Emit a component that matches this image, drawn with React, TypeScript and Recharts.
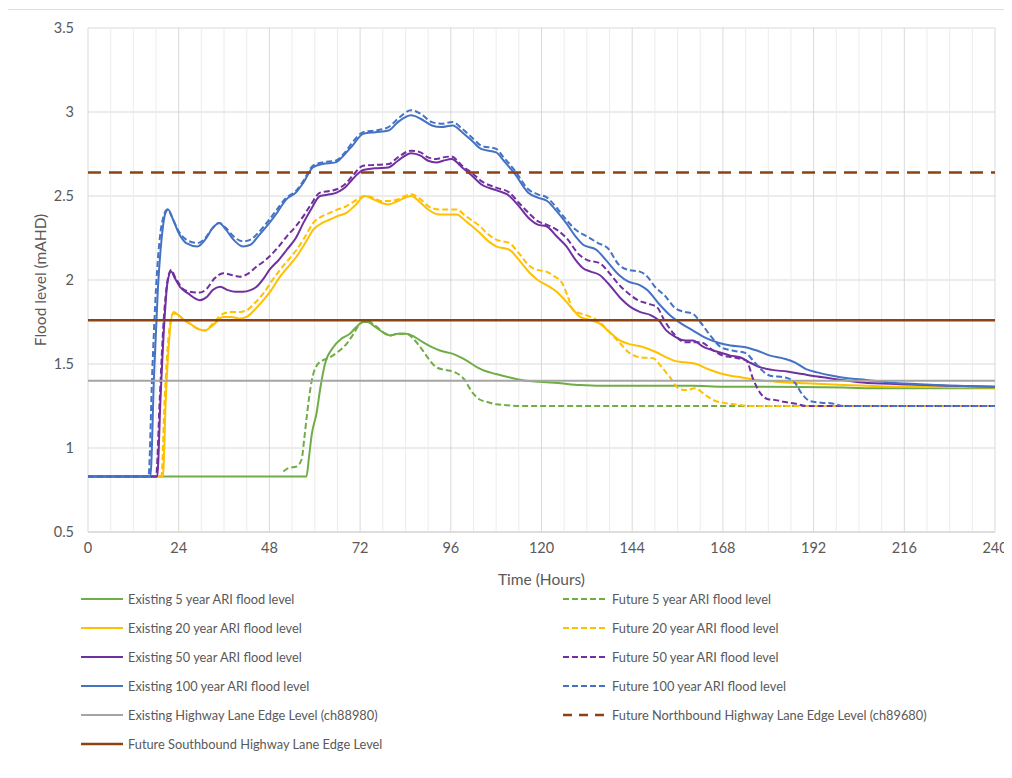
import React from 'react';
import { LineChart, Line, XAxis, YAxis, CartesianGrid, ReferenceLine } from 'recharts';

// time (hours) / flood level (mAHD) pairs
const existing5: [number, number][] = [
  [0, 0.83], [57.8, 0.83], [58.5, 0.95], [59.2, 1.08], [60.5, 1.21], [61.5, 1.36], [62.7, 1.5], [64.9, 1.6],
  [67, 1.65], [69.3, 1.68], [71, 1.72], [72.8, 1.75], [74, 1.75], [76, 1.72], [78, 1.69], [79.9, 1.67],
  [82, 1.68], [84.3, 1.68], [86.5, 1.66], [88.6, 1.63], [91, 1.6], [93.1, 1.58], [96.6, 1.56], [100.2, 1.52],
  [103, 1.48], [105.5, 1.455], [108, 1.44], [112.5, 1.415], [116, 1.4], [119.6, 1.395], [125, 1.385],
  [130.2, 1.375], [139, 1.37], [150, 1.37], [160, 1.37], [168, 1.365], [180, 1.365], [200, 1.36], [210, 1.355], [240, 1.355],
];
const future5: [number, number][] = [
  [51.7, 0.86], [53, 0.88], [55.2, 0.89], [56.5, 0.93], [57.2, 1.05], [57.8, 1.17], [58.5, 1.3], [59.2, 1.4],
  [60.5, 1.49], [62, 1.52], [64, 1.54], [66, 1.57], [68.4, 1.62], [70, 1.67], [72, 1.74], [73.5, 1.76],
  [74.6, 1.75], [76.5, 1.72], [78, 1.69], [79.9, 1.67], [82, 1.68], [84.3, 1.68], [86.5, 1.64], [88.6, 1.58],
  [90.5, 1.52], [92.2, 1.48], [94.5, 1.465], [96.6, 1.455], [99.3, 1.415], [101.9, 1.325], [103.5, 1.29],
  [105.5, 1.275], [108, 1.26], [110.8, 1.255], [114, 1.25], [240, 1.25],
];
const existing20: [number, number][] = [
  [0, 0.83], [19.8, 0.83], [20.6, 1.3], [21.5, 1.65], [22.6, 1.81], [24, 1.79], [25.5, 1.76], [27, 1.74],
  [29, 1.71], [31, 1.7], [33, 1.73], [35.8, 1.78], [38, 1.78], [40, 1.77], [42, 1.78], [44, 1.82], [46.4, 1.88],
  [48.5, 1.94], [50.8, 2.02], [53, 2.08], [55.2, 2.14], [57.5, 2.22], [59.6, 2.3], [62, 2.34], [64, 2.36],
  [66, 2.38], [68.4, 2.4], [70.5, 2.44], [73.3, 2.5], [75.5, 2.48], [77.5, 2.46], [79.5, 2.45], [82, 2.47],
  [85.5, 2.5], [88, 2.46], [90, 2.42], [93, 2.39], [95.5, 2.39], [97.5, 2.39], [100, 2.35], [103.7, 2.28],
  [106, 2.23], [108, 2.2], [111.5, 2.18], [114, 2.12], [117, 2.04], [119, 2.0], [121.3, 1.97], [124, 1.93],
  [126.6, 1.87], [128.5, 1.82], [130.2, 1.78], [133, 1.76], [135.4, 1.74], [138, 1.69], [140.7, 1.64],
  [143, 1.62], [147, 1.6], [150.4, 1.57], [153, 1.54], [155, 1.52], [158, 1.51], [161, 1.5], [164, 1.47],
  [167.2, 1.445], [170, 1.43], [173, 1.42], [177, 1.405], [182, 1.395], [190, 1.385], [200, 1.375], [215, 1.365], [240, 1.36],
];
const future20: [number, number][] = [
  [0, 0.83], [19.4, 0.83], [20.3, 1.3], [21.3, 1.66], [22.5, 1.8], [24, 1.79], [25.5, 1.76], [27, 1.74],
  [29, 1.71], [31, 1.7], [33, 1.74], [35.8, 1.8], [38, 1.81], [40, 1.81], [42, 1.82], [44, 1.86], [46.4, 1.92],
  [48.5, 1.99], [50.8, 2.06], [53, 2.12], [55.2, 2.18], [57.5, 2.26], [59.6, 2.34], [62, 2.38], [64, 2.4],
  [66, 2.42], [68.4, 2.44], [70.5, 2.47], [73.3, 2.5], [75.5, 2.49], [77.5, 2.47], [79.5, 2.47], [82, 2.48],
  [85.5, 2.51], [88, 2.48], [90, 2.44], [93, 2.42], [95.5, 2.42], [97.5, 2.42], [100, 2.38], [103.7, 2.32],
  [106, 2.27], [108, 2.24], [111.5, 2.22], [114, 2.16], [117, 2.08], [119, 2.06], [121.3, 2.05], [123.5, 2.02],
  [125.5, 1.98], [127, 1.9], [128.4, 1.82], [131.9, 1.79], [135.4, 1.75], [138, 1.69], [140.7, 1.625],
  [143, 1.57], [146, 1.54], [149.5, 1.535], [151.5, 1.49], [154, 1.42], [156.6, 1.35], [158.5, 1.345],
  [160.5, 1.355], [163.7, 1.31], [166, 1.28], [168, 1.27], [171, 1.26], [175, 1.25], [240, 1.25],
];
const existing50: [number, number][] = [
  [0, 0.83], [18.3, 0.83], [19.2, 1.3], [20.2, 1.75], [21, 1.98], [22, 2.05], [23, 2.01], [24.3, 1.96],
  [26.5, 1.92], [29.6, 1.88], [31.5, 1.9], [33, 1.94], [35, 1.96], [37, 1.94], [39, 1.93], [41, 1.93],
  [43, 1.94], [44.6, 1.96], [46.5, 2.01], [48, 2.06], [50.5, 2.12], [52.6, 2.18], [55, 2.25], [57, 2.34],
  [59, 2.42], [61.4, 2.5], [64, 2.51], [65.8, 2.52], [68, 2.55], [70, 2.6], [72.8, 2.655], [76, 2.665],
  [79.5, 2.67], [82, 2.71], [85.5, 2.755], [88, 2.74], [90, 2.71], [92.2, 2.7], [94, 2.71], [96.2, 2.72],
  [99, 2.67], [101.9, 2.615], [104, 2.57], [108, 2.535], [111.5, 2.5], [114, 2.44], [117, 2.36], [119, 2.33],
  [121.3, 2.32], [124, 2.26], [126.6, 2.2], [129, 2.12], [131, 2.07], [133, 2.05], [135.4, 2.03], [138, 1.97],
  [141, 1.89], [143.5, 1.84], [146, 1.81], [149, 1.79], [151, 1.76], [153, 1.7], [155.5, 1.66], [158, 1.64],
  [160, 1.64], [163, 1.6], [167, 1.57], [170, 1.55], [172.5, 1.54], [175, 1.51], [178, 1.48], [181, 1.465],
  [185, 1.455], [189, 1.44], [193, 1.425], [198, 1.41], [205, 1.39], [215, 1.38], [228, 1.37], [240, 1.365],
];
const future50: [number, number][] = [
  [0, 0.83], [18, 0.83], [19, 1.3], [20, 1.75], [21, 1.99], [22, 2.06], [23, 2.02], [25, 1.95], [27, 1.93],
  [29.6, 1.925], [31.5, 1.95], [33.5, 2.01], [35.8, 2.04], [38, 2.03], [40.2, 2.02], [42.5, 2.04], [44.6, 2.08],
  [46.5, 2.11], [48, 2.14], [50.5, 2.2], [52.6, 2.26], [55, 2.32], [57, 2.38], [59, 2.45], [61.4, 2.52],
  [64, 2.53], [65.8, 2.54], [68, 2.57], [70, 2.62], [72.8, 2.68], [76, 2.685], [79.5, 2.69], [82, 2.73],
  [85.5, 2.77], [88, 2.76], [90, 2.73], [92.2, 2.72], [94, 2.73], [96.2, 2.735], [99, 2.68], [102, 2.63],
  [104, 2.59], [108, 2.55], [111.5, 2.52], [114, 2.46], [117, 2.39], [119, 2.35], [121.3, 2.33], [124, 2.3],
  [126.6, 2.25], [130, 2.15], [132, 2.12], [135.4, 2.1], [138, 2.04], [141, 1.96], [143, 1.92], [145.5, 1.88],
  [148, 1.86], [150.5, 1.84], [152.5, 1.76], [155, 1.68], [158, 1.63], [162, 1.63], [165.5, 1.58], [168, 1.55],
  [170.6, 1.54], [174.2, 1.52], [176, 1.41], [177.8, 1.33], [180, 1.29], [182, 1.285], [184, 1.275],
  [187, 1.265], [190, 1.25], [240, 1.25],
];
const existing100: [number, number][] = [
  [0, 0.83], [16.5, 0.83], [17.5, 1.45], [18.5, 1.95], [19.5, 2.25], [20.5, 2.4], [21.2, 2.42], [22.5, 2.36],
  [24, 2.28], [26, 2.22], [29, 2.2], [31, 2.24], [33, 2.31], [34.7, 2.34], [36.5, 2.3], [38.5, 2.24], [41, 2.2],
  [43, 2.21], [45, 2.26], [48, 2.34], [50, 2.4], [52.5, 2.48], [55, 2.52], [57, 2.58], [59.5, 2.67], [62, 2.69],
  [65.5, 2.7], [68, 2.75], [70, 2.8], [72.8, 2.87], [76, 2.88], [79.5, 2.89], [82, 2.94], [85.5, 2.98],
  [88, 2.96], [91, 2.92], [93.5, 2.91], [96.5, 2.92], [99, 2.88], [102, 2.82], [104, 2.78], [108, 2.76],
  [110, 2.71], [113, 2.63], [116.5, 2.52], [119, 2.49], [121.5, 2.47], [124, 2.41], [126.5, 2.34], [129, 2.26],
  [131, 2.21], [134.5, 2.18], [137, 2.12], [140.5, 2.03], [143, 1.99], [146, 1.97], [148, 1.94], [151, 1.86],
  [154, 1.79], [157, 1.74], [160, 1.7], [163, 1.66], [167, 1.625], [170, 1.61], [174, 1.6], [177, 1.58],
  [180.5, 1.55], [184.5, 1.53], [187, 1.51], [190, 1.47], [193, 1.45], [197, 1.43], [201, 1.415], [206, 1.405],
  [212, 1.39], [220, 1.38], [230, 1.37], [240, 1.365],
];
const future100: [number, number][] = [
  [0, 0.83], [16, 0.83], [17, 1.45], [18, 1.95], [19, 2.25], [20, 2.38], [21, 2.42], [22.5, 2.36], [24, 2.29],
  [26, 2.24], [29, 2.22], [31, 2.25], [33, 2.31], [34.7, 2.34], [36.5, 2.31], [38.5, 2.26], [41, 2.23],
  [43, 2.24], [45, 2.28], [48, 2.36], [50, 2.42], [52.5, 2.49], [55, 2.53], [57, 2.59], [59.5, 2.68], [62, 2.7],
  [65.5, 2.71], [68, 2.76], [70, 2.82], [72.8, 2.88], [76, 2.89], [79.5, 2.91], [82, 2.96], [85.5, 3.01],
  [88, 2.99], [91, 2.94], [93.5, 2.93], [96.5, 2.94], [99, 2.9], [102, 2.84], [104, 2.8], [108, 2.78],
  [110, 2.73], [113, 2.65], [116.5, 2.54], [119, 2.51], [121.5, 2.49], [124, 2.43], [126.5, 2.36], [129, 2.3],
  [132, 2.26], [135, 2.22], [137.5, 2.19], [140.5, 2.09], [143, 2.06], [146, 2.05], [148, 2.02], [150, 1.96],
  [152.5, 1.91], [155.5, 1.83], [158, 1.81], [160, 1.8], [162, 1.75], [165, 1.66], [167.5, 1.6], [170.5, 1.58],
  [174, 1.565], [176, 1.52], [178, 1.47], [180.5, 1.43], [184.5, 1.42], [187, 1.39], [189, 1.32], [191, 1.28],
  [194, 1.27], [197, 1.265], [200, 1.25], [240, 1.25],
];
const existingLaneEdge: [number, number][] = [[0, 1.4], [240, 1.4]];
const northboundLaneEdge: [number, number][] = [[0, 2.64], [240, 2.64]];
const southboundLaneEdge: [number, number][] = [[0, 1.76], [240, 1.76]];

const hourTicks = [0, 24, 48, 72, 96, 120, 144, 168, 192, 216, 240];
const minorHours = [6, 12, 18, 30, 36, 42, 54, 60, 66, 78, 84, 90, 102, 108, 114, 126, 132, 138, 150, 156, 162, 174, 180, 186, 198, 204, 210, 222, 228, 234];
const levelTicks = [0.5, 1, 1.5, 2, 2.5, 3, 3.5];

const GREEN = '#70ad47';
const YELLOW = '#ffc000';
const PURPLE = '#7030a0';
const BLUE = '#4472c4';
const GREY = '#a5a5a5';
const BROWN = '#8c4212';

type Series = { name: string; data: [number, number][]; color: string; dash?: string; width: number };

const series: Series[] = [
  { name: 'Existing 5 year ARI flood level', data: existing5, color: GREEN, width: 2 },
  { name: 'Future 5 year ARI flood level', data: future5, color: GREEN, dash: '6 3', width: 2 },
  { name: 'Existing 20 year ARI flood level', data: existing20, color: YELLOW, width: 2 },
  { name: 'Future 20 year ARI flood level', data: future20, color: YELLOW, dash: '6 3', width: 2 },
  { name: 'Existing 50 year ARI flood level', data: existing50, color: PURPLE, width: 2 },
  { name: 'Future 50 year ARI flood level', data: future50, color: PURPLE, dash: '6 3', width: 2 },
  { name: 'Existing 100 year ARI flood level', data: existing100, color: BLUE, width: 2 },
  { name: 'Future 100 year ARI flood level', data: future100, color: BLUE, dash: '6 3', width: 2 },
  { name: 'Existing Highway Lane Edge Level (ch88980)', data: existingLaneEdge, color: GREY, width: 2 },
  { name: 'Future Northbound Highway Lane Edge Level (ch89680)', data: northboundLaneEdge, color: BROWN, dash: '13 8', width: 2.5 },
  { name: 'Future Southbound Highway Lane Edge Level', data: southboundLaneEdge, color: BROWN, width: 2.5 },
];

const leftLegend = [0, 2, 4, 6, 8, 10];
const rightLegend = [1, 3, 5, 7, 9];

const FONT = 'Lato, "Open Sans", sans-serif';
const TEXT = '#595959';

const toPoints = (arr: [number, number][]) => arr.map(([t, v]) => ({ t, v }));

const LegendRow: React.FC<{ s: Series; x: number; y: number; lineW: number }> = ({ s, x, y, lineW }) => (
  <div style={{ position: 'absolute', left: x, top: y - 10, height: 20, display: 'flex', alignItems: 'center' }}>
    <svg width={lineW} height={6} style={{ display: 'block' }}>
      <line x1={0} y1={3} x2={lineW} y2={3} stroke={s.color} strokeWidth={s.width}
        strokeDasharray={s.dash ? (s.dash === '13 8' ? '9 7' : '6 3') : undefined} />
    </svg>
    <span style={{ marginLeft: 5, fontSize: 12.8, color: TEXT, whiteSpace: 'nowrap' }}>{s.name}</span>
  </div>
);

export default function App() {
  return (
    <div style={{ position: 'relative', width: 1004, height: 770, fontFamily: FONT, background: '#fff' }}>
      <div style={{ position: 'absolute', left: -1, top: 1, width: 1010, height: 770, borderTop: '1.5px solid #dedede', borderLeft: '1.5px solid #dedede' }} />
      <div style={{ position: 'absolute', left: 0, top: 0 }}>
        <LineChart width={1004} height={590} margin={{ top: 20, right: 17, bottom: 0, left: 0 }}>
          <CartesianGrid stroke="#d9d9d9" strokeWidth={1} />
          {minorHours.map((h) => (
            <ReferenceLine key={h} x={h} stroke="#ececec" strokeWidth={1} />
          ))}
          <XAxis dataKey="t" type="number" domain={[0, 240]} ticks={hourTicks} allowDataOverflow
            axisLine={{ stroke: '#d0d0d0' }} tickLine={false} tickMargin={5} height={66}
            tick={{ fill: TEXT, fontSize: 14.5, fontFamily: FONT }}
            label={{ value: 'Time (Hours)', position: 'insideBottom', offset: 13, fill: TEXT, fontSize: 15.5, fontFamily: FONT }} />
          <YAxis type="number" domain={[0.5, 3.5]} ticks={levelTicks} allowDataOverflow width={80}
            axisLine={false} tickLine={false} tickMargin={8}
            tick={{ fill: TEXT, fontSize: 14.5, fontFamily: FONT }}
            label={{ value: 'Flood level (mAHD)', angle: -90, position: 'insideLeft', offset: 32, fill: TEXT, fontSize: 15.5, fontFamily: FONT, style: { textAnchor: 'middle' } }} />
          {series.map((s) => (
            <Line key={s.name} data={toPoints(s.data)} dataKey="v" name={s.name} type="monotone"
              stroke={s.color} strokeWidth={s.width} strokeDasharray={s.dash} dot={false}
              activeDot={false} isAnimationActive={false} />
          ))}
        </LineChart>
      </div>
      {leftLegend.map((idx, i) => (
        <LegendRow key={idx} s={series[idx]} x={73} y={591 + 29 * i} lineW={42} />
      ))}
      {rightLegend.map((idx, i) => (
        <LegendRow key={idx} s={series[idx]} x={555} y={591 + 29 * i} lineW={44} />
      ))}
    </div>
  );
}
